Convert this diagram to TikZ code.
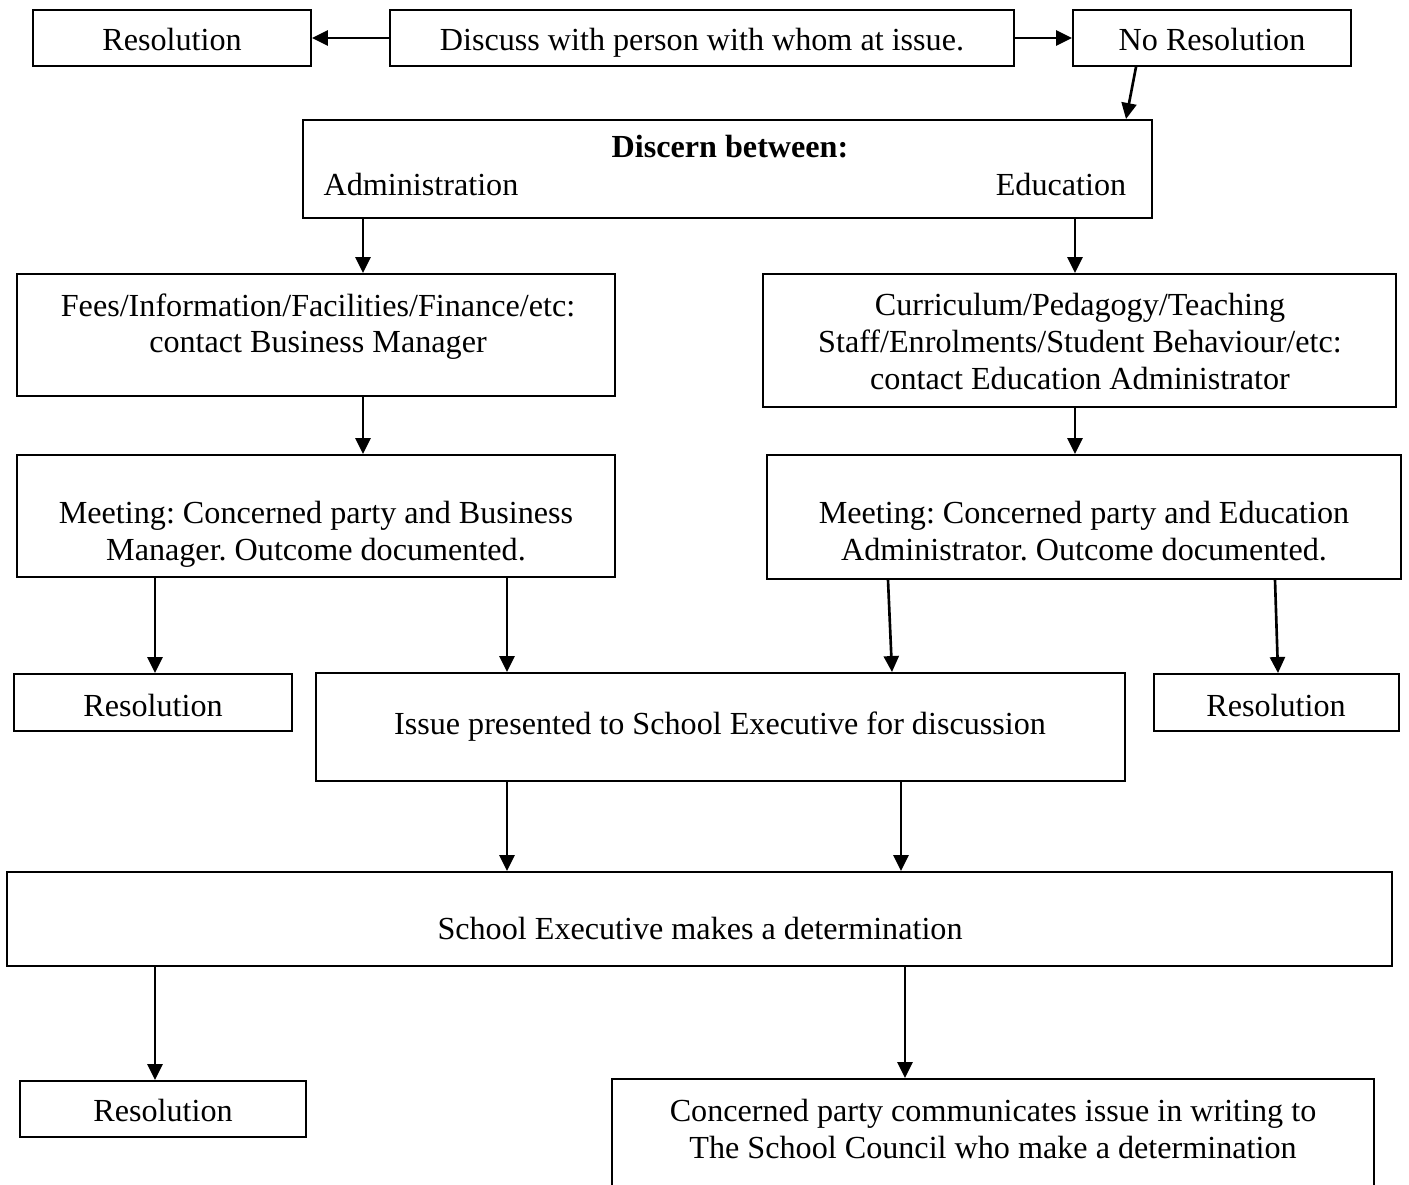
\documentclass[tikz,border=0pt]{standalone}
\usepackage{fontspec}
\setmainfont{Liberation Serif}
\usetikzlibrary{arrows.meta}
\frenchspacing
\begin{document}
\begin{tikzpicture}[x=0.02cm,y=-0.02cm,
  box/.style={draw,line width=1.1pt,inner sep=0pt,rectangle},
  txt/.style={inner sep=0pt,align=center,text depth=0.22em,yshift=-0.06cm,font=\fontsize{18.3}{20.9}\selectfont},
  arr/.style={line width=1.5pt,-{Triangle[length=0.32cm,width=0.3cm]}}]
\useasboundingbox (0,0) rectangle (1409,1185);
% boxes
\node[box,minimum width=5.56cm,minimum height=1.12cm] (r1) at (172,38) {};
\node[txt] (r1t) at (172,38) {Resolution};
\node[box,minimum width=12.48cm,minimum height=1.12cm] (disc) at (702,38) {};
\node[txt] (disct) at (702,38) {Discuss with person with whom at issue.};
\node[box,minimum width=5.56cm,minimum height=1.12cm] (nores) at (1212,38) {};
\node[txt] (norest) at (1212,38) {No Resolution};
\node[box,minimum width=16.98cm,minimum height=1.96cm] (discern) at (727.5,169) {};
\node[txt,font=\fontsize{18.3}{20.9}\selectfont\bfseries] (discernt) at (730,145) {Discern between:};
\node[txt] (admt) at (421,183) {Administration};
\node[txt] (edut) at (1061,183) {Education};
\node[box,minimum width=11.96cm,minimum height=2.44cm] (fees) at (316,335) {};
\node[txt] (feest) at (318,322) {Fees/Information/Facilities/Finance/etc:\\contact Business Manager};
\node[box,minimum width=12.66cm,minimum height=2.66cm] (curr) at (1079.5,340.5) {};
\node[txt] (currt) at (1080,340.5) {Curriculum/Pedagogy/Teaching\\Staff/Enrolments/Student Behaviour/etc:\\contact Education Administrator};
\node[box,minimum width=11.96cm,minimum height=2.44cm] (mbm) at (316,516) {};
\node[txt] (mbmt) at (316,529.5) {Meeting: Concerned party and Business\\Manager. Outcome documented.};
\node[box,minimum width=12.68cm,minimum height=2.48cm] (mea) at (1084,517) {};
\node[txt] (meat) at (1084,529.5) {Meeting: Concerned party and Education\\Administrator. Outcome documented.};
\node[box,minimum width=5.56cm,minimum height=1.14cm] (r2) at (153,702.5) {};
\node[txt] (r2t) at (153,704) {Resolution};
\node[box,minimum width=16.18cm,minimum height=2.16cm] (issue) at (720.5,727) {};
\node[txt] (issuet) at (720,722) {Issue presented to School Executive for discussion};
\node[box,minimum width=4.9cm,minimum height=1.14cm] (r3) at (1276.5,702.5) {};
\node[txt] (r3t) at (1276,704) {Resolution};
\node[box,minimum width=27.7cm,minimum height=1.88cm] (exec) at (699.5,919) {};
\node[txt] (exect) at (700,927) {School Executive makes a determination};
\node[box,minimum width=5.72cm,minimum height=1.12cm] (r4) at (163,1109) {};
\node[txt] (r4t) at (163,1109) {Resolution};
\node[box,minimum width=15.24cm,minimum height=2.4cm] (council) at (993,1139) {};
\node[txt] (councilt) at (993,1128) {Concerned party communicates issue in writing to\\The School Council who make a determination};
% arrows
\draw[arr] (disc.west) -- (r1.east);
\draw[arr] (disc.east) -- (nores.west);
\draw[arr] (1136,0 |- nores.south) -- (1126,0 |- discern.north);
\draw[arr] (363,0 |- discern.south) -- (363,0 |- fees.north);
\draw[arr] (1075,0 |- discern.south) -- (1075,0 |- curr.north);
\draw[arr] (363,0 |- fees.south) -- (363,0 |- mbm.north);
\draw[arr] (1075,0 |- curr.south) -- (1075,0 |- mea.north);
\draw[arr] (155,0 |- mbm.south) -- (155,0 |- r2.north);
\draw[arr] (507,0 |- mbm.south) -- (507,0 |- issue.north);
\draw[arr] (888,0 |- mea.south) -- (892,0 |- issue.north);
\draw[arr] (1275,0 |- mea.south) -- (1278,0 |- r3.north);
\draw[arr] (507,0 |- issue.south) -- (507,0 |- exec.north);
\draw[arr] (901,0 |- issue.south) -- (901,0 |- exec.north);
\draw[arr] (155,0 |- exec.south) -- (155,0 |- r4.north);
\draw[arr] (905,0 |- exec.south) -- (905,0 |- council.north);
\end{tikzpicture}
\end{document}
